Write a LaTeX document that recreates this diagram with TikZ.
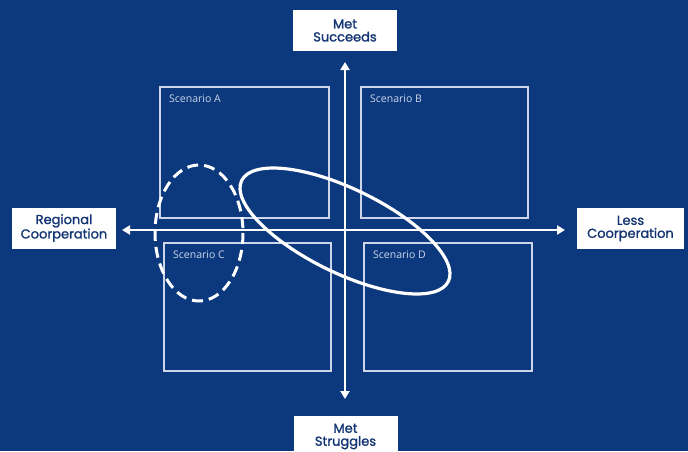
\documentclass[tikz,border=0pt]{standalone}
\usepackage{fontspec}
\setmainfont{Poppins}
\newfontfamily\labelfont{Poppins}[FakeBold=1.3]
\newfontfamily\scenfont{Open Sans}
\usetikzlibrary{calc,arrows.meta,positioning}
\definecolor{bgblue}{RGB}{12,57,126}
\definecolor{inkblue}{RGB}{18,52,115}
\definecolor{framegrey}{RGB}{205,214,232}

\tikzset{
  axislabel/.style={fill=white, text=inkblue, align=center, inner sep=0pt,
    minimum width=104pt, minimum height=41pt,
    font=\labelfont\fontsize{13}{13}\selectfont},
  scenariobox/.style={draw=framegrey, line width=1.3pt, inner sep=0pt},
  scenariotext/.style={text=framegrey, font=\scenfont\fontsize{10.5}{12}\selectfont, anchor=north west, inner sep=0pt},
  axis/.style={white, line width=2.6pt, {Triangle[length=8pt,width=9pt]}-{Triangle[length=8pt,width=9pt]}},
}

\begin{document}
\begin{tikzpicture}[x=1pt, y=-1pt]
\useasboundingbox (0,0) rectangle (688,451);
\fill[bgblue] (0,0) rectangle (688,451);

% the four scenario quadrants
\foreach \name/\xa/\ya/\xb/\yb in {A/160/87/329/218, B/361/87/528/218, C/164/243/331/371, D/364/243/532/371}{
  \draw[scenariobox] (\xa,\ya) rectangle (\xb,\yb);
  \node[scenariotext] (s\name) at (\xa+9,\ya+8) {Scenario \name};
}

% axis end labels
\node[axislabel] (top) at (345,30.5) {Met\\Succeeds};
\node[axislabel] (bottom) at (345.5,436.5) {Met\\Struggles};
\node[axislabel] (left) at (64,228) {Regional\\Coorperation};
\node[axislabel, minimum width=107pt] (right) at (630.5,228.5) {Less\\Coorperation};

% axes
\coordinate (ntip) at (345,62);
\coordinate (stip) at (345,399);
\coordinate (wtip) at (122,230);
\coordinate (etip) at (565,230);
\draw[axis] (stip) -- (ntip);
\draw[axis] (wtip) -- (etip);

% overlaps
\draw[white, line width=3pt, dash pattern=on 11pt off 6pt] (199,233) ellipse [x radius=44, y radius=68];
\draw[white, line width=3.2pt, rotate around={-26:(345,231)}] (345,231) ellipse [x radius=115, y radius=42];

\end{tikzpicture}
\end{document}
